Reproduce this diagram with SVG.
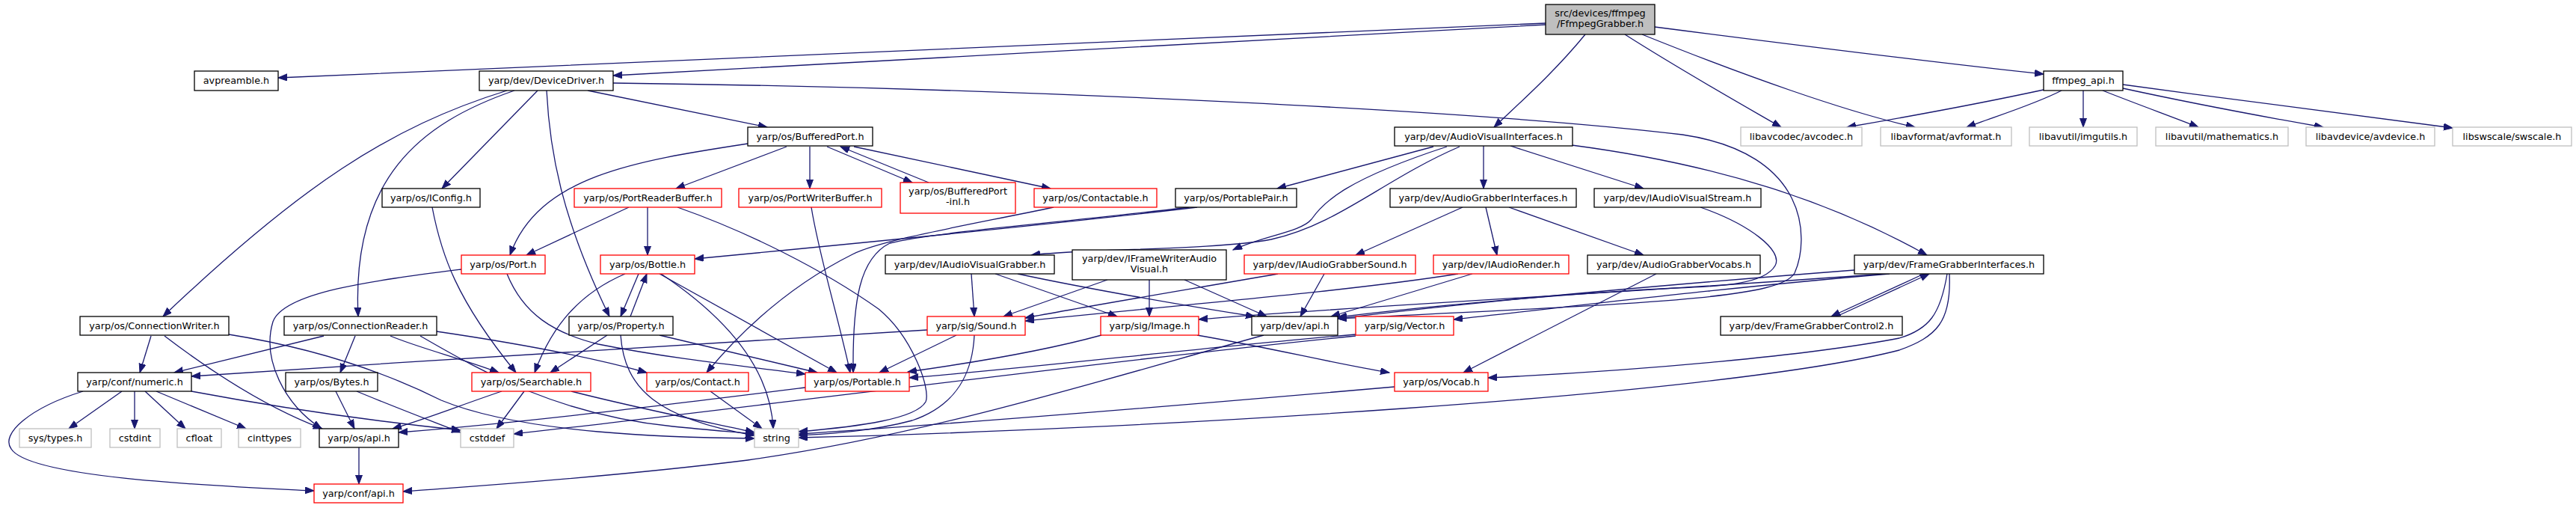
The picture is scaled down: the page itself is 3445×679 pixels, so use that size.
<svg xmlns="http://www.w3.org/2000/svg" width="3445" height="679" viewBox="0 0 3445 679">
<style>
.n rect{fill:#fff;stroke:#000;stroke-width:1.3}
.n.r rect{stroke:#ff0000}
.n.g rect{stroke:#bfbfbf}
.n.root rect{fill:#bfbfbf}
text{font-family:"DejaVu Sans","Liberation Sans",sans-serif;font-size:12.8px;text-anchor:middle;fill:#000}
#edges path{fill:none;stroke:#191970;stroke-width:1.3;marker-end:url(#a)}
</style>
<defs>
<marker id="a" markerUnits="userSpaceOnUse" markerWidth="14" markerHeight="10" refX="12" refY="4.5" orient="auto"><path d="M0,0 L12,4.5 L0,9 z" fill="#191970" stroke="#191970" stroke-width="1"/></marker>
</defs>
<rect width="3445" height="679" fill="#fff"/>
<g id="edges">
<path d="M2067,31 C1500,55 900,81 372,104"/>
<path d="M2067,33 C1700,53 1200,80 820,101"/>
<path d="M2120,46 C2080,95 2035,135 1998,170"/>
<path d="M2173,46 C2250,95 2330,140 2382,170"/>
<path d="M2196,46 C2330,100 2470,150 2561,170"/>
<path d="M2213,36 C2400,60 2600,85 2733,99"/>
<path d="M2733,120 C2640,140 2540,158 2470,170"/>
<path d="M2757,121 C2720,140 2670,155 2630,170"/>
<path d="M2786,121 L2786,170"/>
<path d="M2812,121 C2860,140 2910,158 2940,170"/>
<path d="M2839,118 C2940,140 3050,160 3107,170"/>
<path d="M2839,113 C3000,135 3180,158 3280,171"/>
<path d="M786,121 L1026,170"/>
<path d="M719,121 L591,252"/>
<path d="M731,121 C735,200 750,290 815,423"/>
<path d="M678,121 C520,170 400,250 218,423"/>
<path d="M688,121 C560,165 470,240 479,423"/>
<path d="M820,111 C1400,118 2000,150 2250,180 C2420,205 2420,320 2400,365 C2380,400 2200,405 1789,426"/>
<path d="M1000,192 C850,215 720,235 682,341"/>
<path d="M1052,196 L904,252"/>
<path d="M1083,196 L1083,252"/>
<path d="M1106,196 L1220,244"/>
<path d="M1242,244 L1124,196"/>
<path d="M1142,196 L1405,252"/>
<path d="M1917,196 L1708,252"/>
<path d="M1952,196 C1850,240 1790,300 1700,320 C1620,335 1450,332 1379,341"/>
<path d="M1935,196 C1800,240 1770,270 1754,293 C1740,310 1690,315 1649,334"/>
<path d="M1984,195 L1984,252"/>
<path d="M2020,195 L2198,252"/>
<path d="M2102,194 C2300,220 2450,270 2577,341"/>
<path d="M1956,277 L1813,341"/>
<path d="M1987,277 L2002,341"/>
<path d="M2018,277 L2198,341"/>
<path d="M2274,277 C2340,300 2385,335 2374,355 C2360,380 2300,383 2240,385 C2100,392 1900,410 1789,424"/>
<path d="M2215,366 L1957,498"/>
<path d="M1771,366 L1739,423"/>
<path d="M1709,366 C1600,385 1450,410 1371,425"/>
<path d="M1950,366 C1800,390 1550,410 1371,429"/>
<path d="M1969,366 L1780,423"/>
<path d="M1299,366 L1303,423"/>
<path d="M1331,366 L1494,423"/>
<path d="M1361,366 C1450,385 1580,408 1678,423"/>
<path d="M1481,374 L1342,423"/>
<path d="M1537,374 L1537,423"/>
<path d="M1584,374 L1694,423"/>
<path d="M2573,366 L2449,423"/>
<path d="M2456,423 L2580,366"/>
<path d="M2480,361 C2300,375 2000,400 1789,426"/>
<path d="M2527,366 C2300,385 2100,410 1944,427"/>
<path d="M2520,366 C2200,390 1800,410 1603,427"/>
<path d="M2604,366 C2595,420 2580,440 2540,452 C2420,475 2200,495 1990,505"/>
<path d="M2607,366 C2610,430 2590,450 2540,468 C2300,530 1500,575 1068,585"/>
<path d="M1865,517 C1600,540 1300,565 1068,580"/>
<path d="M1279,448 L1176,498"/>
<path d="M1303,448 C1300,510 1270,545 1220,562 C1160,578 1100,580 1068,582"/>
<path d="M1240,441 C1000,455 600,480 256,503"/>
<path d="M1473,448 C1400,468 1300,485 1214,497"/>
<path d="M1601,448 C1700,465 1780,485 1858,498"/>
<path d="M1813,447 C1600,465 1400,490 1216,505"/>
<path d="M1813,449 C1500,480 1000,545 687,580"/>
<path d="M678,366 C700,420 740,445 800,460 C900,480 1000,490 1077,500"/>
<path d="M617,360 C500,375 380,390 365,430 C350,480 380,540 430,573"/>
<path d="M841,277 L704,341"/>
<path d="M866,277 L866,341"/>
<path d="M906,277 C1000,310 1100,360 1175,413 C1220,450 1245,520 1238,537 C1225,560 1150,570 1068,577"/>
<path d="M1085,277 C1095,340 1120,420 1137,498"/>
<path d="M1601,277 C1450,295 1150,325 929,346"/>
<path d="M1409,277 C1300,300 1180,320 1140,340 C1080,370 1010,420 945,498"/>
<path d="M1590,277 C1400,300 1250,310 1190,325 C1150,345 1140,400 1141,498"/>
<path d="M433,449 L233,498"/>
<path d="M475,449 L455,498"/>
<path d="M522,449 C560,465 620,480 667,498"/>
<path d="M584,443 C700,460 800,480 865,498"/>
<path d="M562,449 C650,500 750,555 900,570 C950,575 990,578 1009,580"/>
<path d="M202,449 L187,498"/>
<path d="M220,449 C300,510 370,550 431,573"/>
<path d="M306,447 C450,470 540,510 590,535 C700,580 900,585 1009,586"/>
<path d="M449,523 L474,573"/>
<path d="M477,523 C530,545 570,560 616,578"/>
<path d="M163,523 L92,573"/>
<path d="M180,523 L180,573"/>
<path d="M194,523 L248,573"/>
<path d="M209,523 L329,573"/>
<path d="M111,523 C40,545 0,580 15,600 C40,640 300,650 420,656"/>
<path d="M256,523 C400,550 520,565 616,575"/>
<path d="M701,523 L664,573"/>
<path d="M764,523 C850,545 950,565 1009,578"/>
<path d="M671,523 C620,540 570,560 525,573"/>
<path d="M950,523 L1019,573"/>
<path d="M1077,518 C900,540 700,565 533,578"/>
<path d="M854,366 L830,423"/>
<path d="M843,423 L865,366"/>
<path d="M836,366 C780,390 740,430 715,498"/>
<path d="M884,366 C950,410 1030,480 1034,573"/>
<path d="M882,366 L1119,498"/>
<path d="M812,448 L736,498"/>
<path d="M830,448 C835,520 880,560 1009,582"/>
<path d="M882,448 L1093,498"/>
<path d="M578,277 C590,340 610,400 690,498"/>
<path d="M1690,448 C1500,500 1250,580 1000,615 C800,640 600,652 539,657"/>
<path d="M480,598 L480,647"/>
</g>
<g id="n0" class="n root"><rect x="2067" y="6" width="146" height="40"/><text x="2140" y="22">src/devices/ffmpeg</text><text x="2140" y="36">/FfmpegGrabber.h</text></g>
<g id="n1" class="n"><rect x="260" y="95" width="112" height="26"/><text x="316" y="112">avpreamble.h</text></g>
<g id="n2" class="n"><rect x="641" y="95" width="179" height="26"/><text x="730.5" y="112">yarp/dev/DeviceDriver.h</text></g>
<g id="n3" class="n"><rect x="2733" y="95" width="106" height="26"/><text x="2786" y="112">ffmpeg_api.h</text></g>
<g id="n4" class="n"><rect x="1000" y="170" width="167" height="25"/><text x="1083.5" y="187">yarp/os/BufferedPort.h</text></g>
<g id="n5" class="n"><rect x="1865" y="170" width="238" height="25"/><text x="1984" y="187">yarp/dev/AudioVisualInterfaces.h</text></g>
<g id="n6" class="n g"><rect x="2328" y="170" width="162" height="25"/><text x="2409" y="187">libavcodec/avcodec.h</text></g>
<g id="n7" class="n g"><rect x="2515" y="170" width="175" height="25"/><text x="2602.5" y="187">libavformat/avformat.h</text></g>
<g id="n8" class="n g"><rect x="2714" y="170" width="144" height="25"/><text x="2786" y="187">libavutil/imgutils.h</text></g>
<g id="n9" class="n g"><rect x="2883" y="170" width="177" height="25"/><text x="2971.5" y="187">libavutil/mathematics.h</text></g>
<g id="n10" class="n g"><rect x="3084" y="170" width="172" height="25"/><text x="3170" y="187">libavdevice/avdevice.h</text></g>
<g id="n11" class="n g"><rect x="3280" y="170" width="159" height="25"/><text x="3359.5" y="187">libswscale/swscale.h</text></g>
<g id="n12" class="n"><rect x="511" y="252" width="131" height="25"/><text x="576.5" y="269">yarp/os/IConfig.h</text></g>
<g id="n13" class="n r"><rect x="768" y="252" width="197" height="25"/><text x="866.5" y="269">yarp/os/PortReaderBuffer.h</text></g>
<g id="n14" class="n r"><rect x="988" y="252" width="191" height="25"/><text x="1083.5" y="269">yarp/os/PortWriterBuffer.h</text></g>
<g id="n15" class="n r"><rect x="1204" y="244" width="154" height="41"/><text x="1281" y="260">yarp/os/BufferedPort</text><text x="1281" y="274">-inl.h</text></g>
<g id="n16" class="n r"><rect x="1383" y="252" width="164" height="25"/><text x="1465" y="269">yarp/os/Contactable.h</text></g>
<g id="n17" class="n"><rect x="1572" y="252" width="162" height="25"/><text x="1653" y="269">yarp/os/PortablePair.h</text></g>
<g id="n18" class="n"><rect x="1859" y="252" width="249" height="25"/><text x="1983.5" y="269">yarp/dev/AudioGrabberInterfaces.h</text></g>
<g id="n19" class="n"><rect x="2132" y="252" width="223" height="25"/><text x="2243.5" y="269">yarp/dev/IAudioVisualStream.h</text></g>
<g id="n20" class="n r"><rect x="617" y="341" width="112" height="25"/><text x="673" y="358">yarp/os/Port.h</text></g>
<g id="n21" class="n r"><rect x="803" y="341" width="126" height="25"/><text x="866" y="358">yarp/os/Bottle.h</text></g>
<g id="n22" class="n"><rect x="1184" y="341" width="226" height="25"/><text x="1297" y="358">yarp/dev/IAudioVisualGrabber.h</text></g>
<g id="n23" class="n"><rect x="1434" y="334" width="206" height="40"/><text x="1537" y="350">yarp/dev/IFrameWriterAudio</text><text x="1537" y="364">Visual.h</text></g>
<g id="n24" class="n r"><rect x="1664" y="341" width="229" height="25"/><text x="1778.5" y="358">yarp/dev/IAudioGrabberSound.h</text></g>
<g id="n25" class="n r"><rect x="1917" y="341" width="181" height="25"/><text x="2007.5" y="358">yarp/dev/IAudioRender.h</text></g>
<g id="n26" class="n"><rect x="2123" y="341" width="231" height="25"/><text x="2238.5" y="358">yarp/dev/AudioGrabberVocabs.h</text></g>
<g id="n27" class="n"><rect x="2480" y="341" width="253" height="25"/><text x="2606.5" y="358">yarp/dev/FrameGrabberInterfaces.h</text></g>
<g id="n28" class="n"><rect x="107" y="423" width="199" height="25"/><text x="206.5" y="440">yarp/os/ConnectionWriter.h</text></g>
<g id="n29" class="n"><rect x="380" y="423" width="204" height="25"/><text x="482" y="440">yarp/os/ConnectionReader.h</text></g>
<g id="n30" class="n"><rect x="761" y="423" width="139" height="25"/><text x="830.5" y="440">yarp/os/Property.h</text></g>
<g id="n31" class="n r"><rect x="1240" y="423" width="131" height="25"/><text x="1305.5" y="440">yarp/sig/Sound.h</text></g>
<g id="n32" class="n r"><rect x="1472" y="423" width="131" height="25"/><text x="1537.5" y="440">yarp/sig/Image.h</text></g>
<g id="n33" class="n"><rect x="1674" y="423" width="115" height="25"/><text x="1731.5" y="440">yarp/dev/api.h</text></g>
<g id="n34" class="n r"><rect x="1813" y="423" width="131" height="25"/><text x="1878.5" y="440">yarp/sig/Vector.h</text></g>
<g id="n35" class="n"><rect x="2301" y="423" width="243" height="25"/><text x="2422.5" y="440">yarp/dev/FrameGrabberControl2.h</text></g>
<g id="n36" class="n"><rect x="104" y="498" width="152" height="25"/><text x="180" y="515">yarp/conf/numeric.h</text></g>
<g id="n37" class="n"><rect x="382" y="498" width="123" height="25"/><text x="443.5" y="515">yarp/os/Bytes.h</text></g>
<g id="n38" class="n r"><rect x="631" y="498" width="159" height="25"/><text x="710.5" y="515">yarp/os/Searchable.h</text></g>
<g id="n39" class="n r"><rect x="865" y="498" width="136" height="25"/><text x="933" y="515">yarp/os/Contact.h</text></g>
<g id="n40" class="n r"><rect x="1077" y="498" width="139" height="25"/><text x="1146.5" y="515">yarp/os/Portable.h</text></g>
<g id="n41" class="n r"><rect x="1865" y="498" width="125" height="25"/><text x="1927.5" y="515">yarp/os/Vocab.h</text></g>
<g id="n42" class="n g"><rect x="26" y="573" width="96" height="25"/><text x="74" y="590">sys/types.h</text></g>
<g id="n43" class="n g"><rect x="147" y="573" width="67" height="25"/><text x="180.5" y="590">cstdint</text></g>
<g id="n44" class="n g"><rect x="237" y="573" width="59" height="25"/><text x="266.5" y="590">cfloat</text></g>
<g id="n45" class="n g"><rect x="319" y="573" width="83" height="25"/><text x="360.5" y="590">cinttypes</text></g>
<g id="n46" class="n"><rect x="427" y="573" width="106" height="25"/><text x="480" y="590">yarp/os/api.h</text></g>
<g id="n47" class="n g"><rect x="616" y="573" width="71" height="25"/><text x="651.5" y="590">cstddef</text></g>
<g id="n48" class="n g"><rect x="1009" y="573" width="59" height="25"/><text x="1038.5" y="590">string</text></g>
<g id="n49" class="n r"><rect x="420" y="647" width="119" height="25"/><text x="479.5" y="664">yarp/conf/api.h</text></g>
</svg>
